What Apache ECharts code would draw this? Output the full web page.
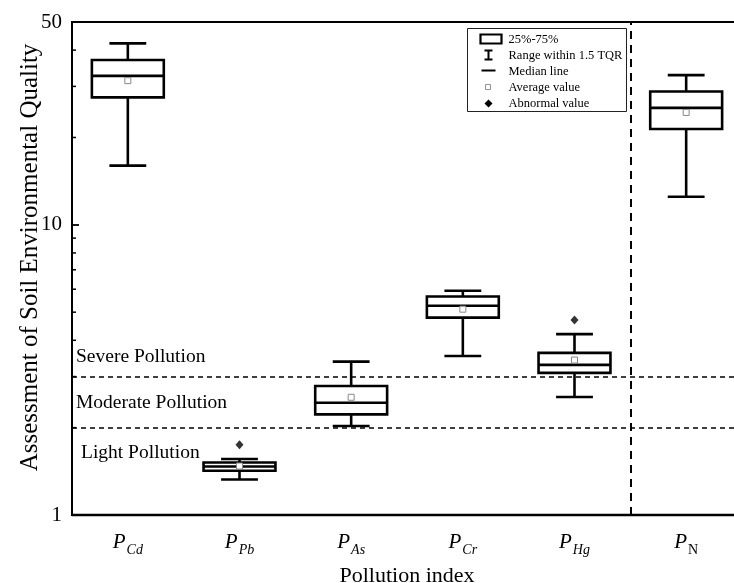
<!DOCTYPE html>
<html>
<head>
<meta charset="utf-8">
<script src="https://cdn.jsdelivr.net/npm/echarts@6/dist/echarts.min.js"></script>
<style>html,body{margin:0;padding:0;background:#fff;}#c{width:734px;height:583px;}</style>
</head>
<body>
<div id="c"></div>
<script>
// ---- data ----
const categories = ['Cd', 'Pb', 'As', 'Cr', 'Hg', 'N'];
const lowerWhisker = [16.0, 1.325, 2.026, 3.53, 2.55, 12.5];
const q1Values = [27.5, 1.421, 2.223, 4.79, 3.09, 21.4];
const medianValues = [32.6, 1.469, 2.438, 5.26, 3.29, 25.3];
const q3Values = [37.0, 1.517, 2.783, 5.66, 3.62, 28.8];
const upperWhisker = [42.2, 1.56, 3.376, 5.93, 4.20, 32.8];
const meanValues = [31.4, 1.475, 2.545, 5.12, 3.42, 24.4];
const outlierCats = ['Pb', 'Hg'];
const outlierValues = [1.747, 4.70];
const thresholdValues = [3, 2];
const separatorPosition = 4.5;
const minorTickValues = [2, 3, 4, 5, 6, 7, 8, 9, 20, 30, 40];
const yMin = 1, yMax = 50;

const SERIF = "'Liberation Serif', 'DejaVu Serif', serif";

const boxData = categories.map((c, i) => [i, lowerWhisker[i], q1Values[i], medianValues[i], q3Values[i], upperWhisker[i]]);
const meanData = categories.map((c, i) => [i, meanValues[i]]);
const outlierData = outlierCats.map((c, i) => [categories.indexOf(c), outlierValues[i]]);

const chart = echarts.init(document.getElementById('c'), null, {renderer: 'canvas'});

function renderBox(params, api) {
  const i = api.value(0);
  const band = api.size([1, 0])[0];
  const hw = band * 0.322, cw = band * 0.165;
  const pLo = api.coord([i, api.value(1)]);
  const pQ1 = api.coord([i, api.value(2)]);
  const pMed = api.coord([i, api.value(3)]);
  const pQ3 = api.coord([i, api.value(4)]);
  const pHi = api.coord([i, api.value(5)]);
  const x = pMed[0];
  const st = {stroke: '#000', lineWidth: 2.6, fill: null};
  return {
    type: 'group',
    children: [
      {type: 'line', shape: {x1: x, y1: pHi[1], x2: x, y2: pQ3[1]}, style: st},
      {type: 'line', shape: {x1: x, y1: pQ1[1], x2: x, y2: pLo[1]}, style: st},
      {type: 'line', shape: {x1: x - cw, y1: pHi[1], x2: x + cw, y2: pHi[1]}, style: st},
      {type: 'line', shape: {x1: x - cw, y1: pLo[1], x2: x + cw, y2: pLo[1]}, style: st},
      {type: 'rect', shape: {x: x - hw, y: pQ3[1], width: 2 * hw, height: pQ1[1] - pQ3[1]}, style: {stroke: '#000', lineWidth: 2.6, fill: 'rgba(255,255,255,0)'}},
      {type: 'line', shape: {x1: x - hw, y1: pMed[1], x2: x + hw, y2: pMed[1]}, style: st}
    ]
  };
}

function renderMinorTicks(params, api) {
  const y = api.coord([0, api.value(1)])[1];
  const x0 = params.coordSys.x;
  return {type: 'line', shape: {x1: x0, y1: y, x2: x0 + 4, y2: y}, style: {stroke: '#000', lineWidth: 1.5}};
}

const legendX = 467, legendY = 28;
const legendFont = {fontFamily: SERIF, fontSize: 12.5, fill: '#000'};
const legendItems = ['25%-75%', 'Range within 1.5 TQR', 'Median line', 'Average value', 'Abnormal value'];

const option = {
  backgroundColor: '#fff',
  animation: false,
  grid: {left: 72, width: 670, top: 22, bottom: 68, outerBoundsMode: 'none', containLabel: false, show: true, borderColor: '#000', borderWidth: 1.8, backgroundColor: 'transparent'},
  xAxis: [{
    type: 'category',
    data: categories,
    boundaryGap: true,
    axisLine: {lineStyle: {color: '#000', width: 2.4}},
    axisTick: {inside: true, length: 8, alignWithLabel: true, lineStyle: {color: '#000', width: 2}},
    axisLabel: {
      margin: 17,
      formatter: function (v) { return v === 'N' ? '{p|P}{n|' + v + '}' : '{p|P}{s|' + v + '}'; },
      rich: {
        p: {fontFamily: SERIF, fontStyle: 'italic', fontSize: 21, color: '#000', verticalAlign: 'top', lineHeight: 22},
        s: {fontFamily: SERIF, fontStyle: 'italic', fontSize: 14, color: '#000', verticalAlign: 'top', lineHeight: 14, padding: [11, 0, 0, 1]},
        n: {fontFamily: SERIF, fontSize: 14, color: '#000', verticalAlign: 'top', lineHeight: 14, padding: [11, 0, 0, 1]}
      }
    },
    splitLine: {show: false},
    name: 'Pollution index',
    nameLocation: 'middle',
    nameGap: 50,
    nameTextStyle: {fontFamily: SERIF, fontSize: 22, color: '#000'}
  }, {
    type: 'value',
    min: -0.5,
    max: 5.5,
    show: false,
    splitLine: {show: false}
  }],
  yAxis: {
    type: 'log',
    logBase: 10,
    min: yMin,
    max: yMax,
    axisLine: {show: true, onZero: false, lineStyle: {color: '#000', width: 2}},
    axisTick: {show: true, inside: true, length: 7, lineStyle: {color: '#000', width: 1.8}},
    minorTick: {show: false},
    splitLine: {show: false},
    axisLabel: {fontFamily: SERIF, fontSize: 21, color: '#000', margin: 10, showMaxLabel: true, showMinLabel: true},
    name: 'Assessment of Soil Environmental Quality',
    nameLocation: 'middle',
    nameMoveOverlap: false,
    nameGap: 29,
    nameTextStyle: {fontFamily: SERIF, fontSize: 25, color: '#000', padding: [0, 0, 0, 22]}
  },
  series: [
    {
      type: 'custom',
      xAxisIndex: 0,
      renderItem: renderBox,
      data: boxData,
      encode: {x: 0, y: [1, 2, 3, 4, 5]},
      z: 3,
      markLine: {
        silent: true,
        symbol: 'none',
        label: {show: false},
        lineStyle: {color: '#000', type: [5, 4], width: 1.6},
        data: thresholdValues.map(v => ({yAxis: v}))
      }
    },
    {
      type: 'custom',
      xAxisIndex: 0,
      renderItem: renderMinorTicks,
      data: minorTickValues.map(v => [0, v]),
      z: 4
    },
    {
      type: 'line',
      xAxisIndex: 1,
      data: [],
      markLine: {
        silent: true,
        symbol: 'none',
        label: {show: false},
        lineStyle: {color: '#000', type: [8, 6], width: 2},
        data: [{xAxis: separatorPosition}]
      }
    },
    {
      type: 'scatter',
      xAxisIndex: 0,
      data: meanData,
      symbol: 'rect',
      symbolSize: 6,
      itemStyle: {color: '#fff', borderColor: '#888', borderWidth: 1, opacity: 1},
      z: 5
    },
    {
      type: 'scatter',
      xAxisIndex: 0,
      data: outlierData,
      symbol: 'diamond',
      symbolSize: [8, 9],
      itemStyle: {color: '#000'},
      z: 5
    }
  ],
  graphic: [
    {type: 'text', left: 76, top: 347, style: {text: 'Severe Pollution', fontFamily: SERIF, fontSize: 19.5, fill: '#000'}},
    {type: 'text', left: 76, top: 393, style: {text: 'Moderate Pollution', fontFamily: SERIF, fontSize: 19.5, fill: '#000'}},
    {type: 'text', left: 81, top: 443, style: {text: 'Light Pollution', fontFamily: SERIF, fontSize: 19.5, fill: '#000'}},
    {
      type: 'group', left: legendX, top: legendY, z: 10,
      children: [
        {type: 'rect', shape: {x: 0, y: 0, width: 159, height: 83}, style: {fill: '#fff', stroke: '#222', lineWidth: 1}},
        {type: 'rect', shape: {x: 13, y: 6, width: 21, height: 9}, style: {fill: '#fff', stroke: '#000', lineWidth: 2.2}},
        {type: 'line', shape: {x1: 21, y1: 22, x2: 21, y2: 31}, style: {stroke: '#000', lineWidth: 2}},
        {type: 'line', shape: {x1: 17, y1: 22, x2: 25, y2: 22}, style: {stroke: '#000', lineWidth: 2}},
        {type: 'line', shape: {x1: 17, y1: 31, x2: 25, y2: 31}, style: {stroke: '#000', lineWidth: 2}},
        {type: 'line', shape: {x1: 14, y1: 42, x2: 28, y2: 42}, style: {stroke: '#000', lineWidth: 2}},
        {type: 'rect', shape: {x: 18, y: 56, width: 5, height: 5}, style: {fill: '#fff', stroke: '#777', lineWidth: 0.8}},
        {type: 'polygon', shape: {points: [[21, 71], [25, 75], [21, 79], [17, 75]]}, style: {fill: '#000'}},
        ...legendItems.map((t, k) => ({type: 'text', x: 41, y: 11 + k * 16, style: Object.assign({text: t, verticalAlign: 'middle'}, legendFont)}))
      ]
    }
  ]
};
chart.setOption(option);
</script>
</body>
</html>
